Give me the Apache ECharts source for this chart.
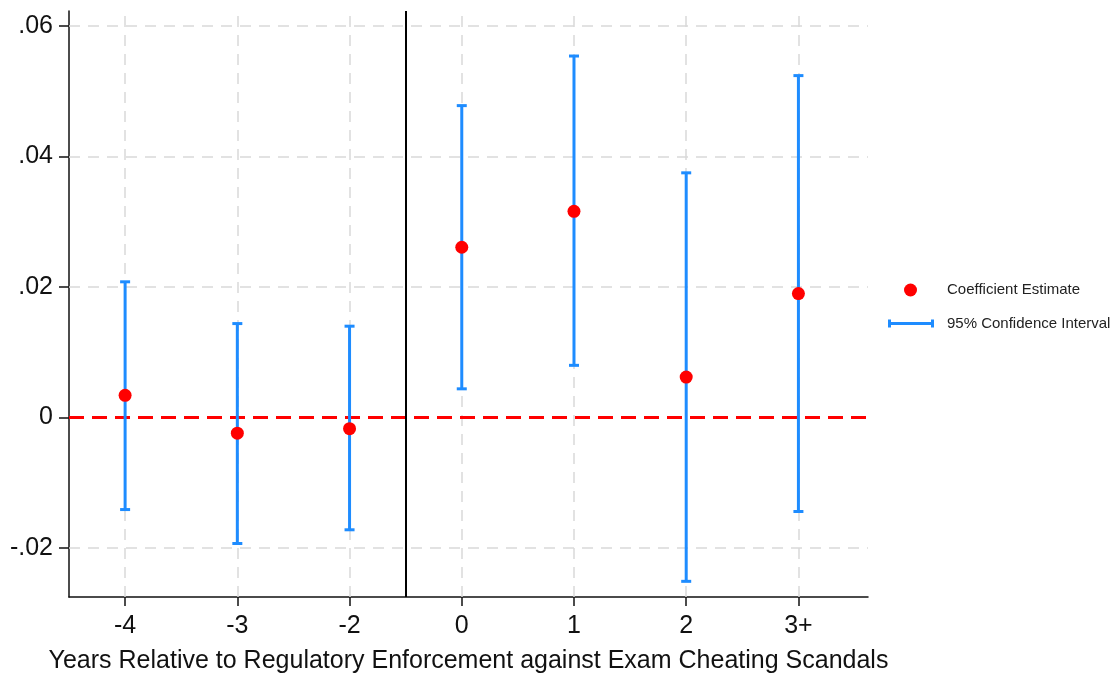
<!DOCTYPE html>
<html>
<head>
<meta charset="utf-8">
<script src="https://cdn.jsdelivr.net/npm/echarts@6/dist/echarts.min.js"></script>
<style>
html,body{margin:0;padding:0;background:#fff;}
#chart{width:1118px;height:679px;}
</style>
</head>
<body>
<div id="chart"></div>
<script>
// ---- data ----
const xLabels = ['-4', '-3', '-2', '0', '1', '2', '3+'];
const coef    = [0.0034, -0.0024, -0.0017, 0.0261, 0.0316, 0.0062, 0.0190];
const ciLow   = [-0.0141, -0.0193, -0.0172, 0.0044, 0.0080, -0.0251, -0.0144];
const ciHigh  = [0.0208, 0.0144, 0.0140, 0.0478, 0.0554, 0.0375, 0.0524];
const yTicks  = [-0.02, 0, 0.02, 0.04, 0.06];
const eventPos = 2.5; // between -2 and 0
const xTitle = 'Years Relative to Regulatory Enforcement against Exam Cheating Scandals';

const BLUE = '#1e8cff';
const RED = '#ff0000';
const GRID = '#d9d9d9';
const FONT = '"Liberation Sans", Arial, Helvetica, sans-serif';

const xIdx = xLabels.map((_, i) => i);
const pointData = coef.map((v, i) => [i, v]);
const ciData = ciLow.map((lo, i) => [i, lo, ciHigh[i]]);

function yFmt(v) {
  if (Math.abs(v) < 1e-9) return '0';
  return v.toFixed(2).replace('0.', '.');
}

const chart = echarts.init(document.getElementById('chart'), null, {renderer: 'canvas'});

const option = {
  backgroundColor: '#fff',
  animation: false,
  textStyle: {fontFamily: FONT},
  grid: {left: 69, top: 11, right: 250, bottom: 77, containLabel: false},
  xAxis: {
    type: 'value',
    min: -0.5,
    max: 6.62,
    axisLine: {show: true, onZero: false, lineStyle: {color: '#111', width: 1.5}},
    axisTick: {show: true, customValues: xIdx, length: 9, lineStyle: {color: '#111', width: 1.5}},
    axisLabel: {customValues: xIdx, formatter: v => xLabels[Math.round(v)], fontSize: 25, color: '#111', margin: 17, fontFamily: FONT},
    splitLine: {show: false},
    name: xTitle,
    nameLocation: 'middle',
    nameGap: 52,
    nameTextStyle: {fontSize: 25, color: '#111', fontFamily: FONT}
  },
  yAxis: {
    type: 'value',
    min: -0.0275,
    max: 0.0623,
    axisLine: {show: true, onZero: false, lineStyle: {color: '#111', width: 1.5}},
    axisTick: {show: true, customValues: yTicks, length: 10, lineStyle: {color: '#111', width: 1.5}},
    axisLabel: {customValues: yTicks, formatter: yFmt, fontSize: 25, color: '#111', margin: 16, fontFamily: FONT},
    splitLine: {show: false}
  },
  legend: [
    {
      left: 904, top: 282.5, padding: 0, selectedMode: false,
      itemWidth: 13, itemHeight: 13,
      data: [{name: 'Coefficient Estimate', icon: 'circle'}],
      textStyle: {fontSize: 15, color: '#222', padding: [0, 0, 0, 25], fontFamily: FONT}
    },
    {
      left: 888, top: 316, padding: 0, selectedMode: false,
      itemWidth: 46, itemHeight: 8,
      data: [{name: '95% Confidence Interval', icon: 'path://M0,0 L3,0 L3,2.5 L43,2.5 L43,0 L46,0 L46,8 L43,8 L43,5.5 L3,5.5 L3,8 L0,8 Z'}],
      textStyle: {fontSize: 15, color: '#222', padding: [0, 0, 0, 8], fontFamily: FONT}
    }
  ],
  series: [
    {
      name: 'gridlines',
      type: 'scatter',
      data: [],
      z: 1,
      silent: true,
      markLine: {
        z: 1,
        silent: true,
        symbol: 'none',
        label: {show: false},
        animation: false,
        lineStyle: {color: GRID, type: [11, 8], width: 1.5},
        data: xIdx.map(i => ({xAxis: i})).concat(
          yTicks.filter(v => v !== 0).map(v => ({yAxis: v})))
      }
    },
    {
      name: 'refs',
      type: 'scatter',
      data: [],
      z: 2,
      silent: true,
      markLine: {
        z: 2,
        silent: true,
        symbol: 'none',
        label: {show: false},
        animation: false,
        data: [
          {yAxis: 0, lineStyle: {color: RED, type: [15, 8], width: 3}},
          {xAxis: eventPos, lineStyle: {color: '#000', type: 'solid', width: 2}}
        ]
      }
    },
    {
      name: '95% Confidence Interval',
      type: 'custom',
      z: 10,
      itemStyle: {color: BLUE},
      data: ciData,
      encode: {x: 0, y: [1, 2]},
      renderItem: function (params, api) {
        const x = api.value(0), lo = api.value(1), hi = api.value(2);
        const a = api.coord([x, lo]);
        const b = api.coord([x, hi]);
        const cap = 5;
        const st = {stroke: BLUE, lineWidth: 3};
        return {
          type: 'group',
          children: [
            {type: 'line', shape: {x1: a[0], y1: a[1], x2: b[0], y2: b[1]}, style: st},
            {type: 'line', shape: {x1: a[0] - cap, y1: a[1], x2: a[0] + cap, y2: a[1]}, style: st},
            {type: 'line', shape: {x1: b[0] - cap, y1: b[1], x2: b[0] + cap, y2: b[1]}, style: st}
          ]
        };
      }
    },
    {
      name: 'Coefficient Estimate',
      type: 'scatter',
      z: 11,
      symbol: 'circle',
      symbolSize: 13,
      itemStyle: {color: RED, opacity: 1},
      data: pointData
    }
  ]
};

chart.setOption(option);
</script>
</body>
</html>
